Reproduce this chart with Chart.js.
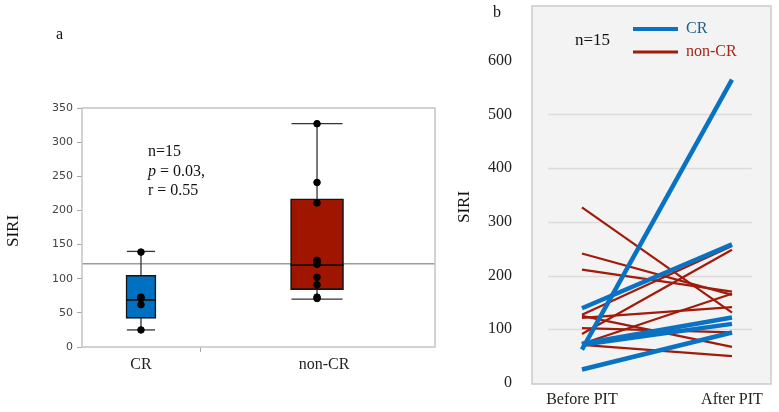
<!DOCTYPE html>
<html>
<head>
<meta charset="utf-8">
<script src="https://cdn.jsdelivr.net/npm/chart.js@4.4.1/dist/chart.umd.min.js"></script>
<style>
  html, body { margin: 0; padding: 0; background: #fff; }
  #wrap { position: relative; width: 779px; height: 412px; }
  #chartA { position: absolute; left: 0; top: 0; }
  #chartB { position: absolute; left: 440px; top: 0; }
</style>
</head>
<body>
<div id="wrap">
  <canvas id="chartA" width="440" height="412"></canvas>
  <canvas id="chartB" width="339" height="412"></canvas>
</div>
<script>
// =======================================================
// Data
// =======================================================
const groups = ['CR', 'non-CR']
const phases = ['Before PIT', 'After PIT']

// paired SIRI values, panel b (the "before" values are the dots of panel a)
const crBefore = [139, 62, 73, 71, 25]
const crAfter = [258, 565, 122, 110, 94]
const nonCrBefore = [327, 241, 211, 127, 125, 121, 102, 91, 73, 71]
const nonCrAfter = [131, 164, 170, 255, 67, 141, 94, 248, 166, 50]

// box plot stats, panel a
const boxMin = [25, 70]
const boxQ1 = [42, 84]
const boxMedian = [69, 120]
const boxQ3 = [105, 217]
const boxMax = [140, 327]
const overallLine = 122

const ticksB = [0, 100, 200, 300, 400, 500, 600]
const gridB = [100, 200, 300, 400, 500]

// =======================================================
// Styles
// =======================================================
const SERIF = '"Liberation Serif", "Times New Roman", serif'
const SANS = '"DejaVu Sans", Verdana, sans-serif'
const boxColors = ['#0070c0', '#a01500']
const boxWidthPx = [30, 53]
const capHalf = [0.08, 0.145]
const medHalf = [0.085, 0.151]
const xTickMark = 0.34
const labelPosA = [0, 1.04]
const blue = '#0a72c2'
const red = '#a11b0b'

function seg(x1, y1, x2, y2, color, width, order) {
  return {
    type: 'line',
    data: [{ x: x1, y: y1 }, { x: x2, y: y2 }],
    borderColor: color,
    borderWidth: width,
    pointRadius: 0,
    fill: false,
    order,
  }
}

function text(ctx, str, x, y, font, color, align) {
  ctx.save()
  ctx.font = font
  ctx.fillStyle = color || '#111'
  ctx.textAlign = align || 'left'
  ctx.textBaseline = 'middle'
  ctx.fillText(str, x, y)
  ctx.restore()
}

function vtext(ctx, str, x, y, font) {
  ctx.save()
  ctx.translate(x, y)
  ctx.rotate(-Math.PI / 2)
  text(ctx, str, 0, 0, font, '#111', 'center')
  ctx.restore()
}

// =======================================================
// Panel a: box plot
// =======================================================
const dsA = []
const xMinA = -0.335
const xMaxA = 1.67

// reference line
dsA.push(seg(xMinA, overallLine, xMaxA, overallLine, '#9c9c9c', 1.5, 4))

groups.forEach((g, i) => {
  // whiskers + caps
  dsA.push(seg(i, boxMin[i], i, boxMax[i], '#333', 1.3, 3))
  dsA.push(seg(i - capHalf[i], boxMin[i], i + capHalf[i], boxMin[i], '#333', 1.3, 3))
  dsA.push(seg(i - capHalf[i], boxMax[i], i + capHalf[i], boxMax[i], '#333', 1.3, 3))
  // box
  dsA.push({
    type: 'bar',
    data: [{ x: i, y: [boxQ1[i], boxQ3[i]] }],
    backgroundColor: boxColors[i],
    borderColor: '#151515',
    borderWidth: 1.6,
    borderSkipped: false,
    barThickness: boxWidthPx[i],
    grouped: false,
    order: 2,
  })
  // median
  dsA.push(seg(i - medHalf[i], boxMedian[i], i + medHalf[i], boxMedian[i], '#111', 1.8, 1))
})

// dots
dsA.push({
  type: 'scatter',
  data: [
    ...crBefore.map((v) => ({ x: 0, y: v })),
    ...nonCrBefore.map((v) => ({ x: 1, y: v })),
  ],
  backgroundColor: '#000',
  borderColor: '#000',
  pointRadius: 3.3,
  order: 0,
})

const panelAPlugin = {
  id: 'panelA',
  afterDraw(chart) {
    const { ctx, chartArea: a } = chart
    ctx.save()
    ctx.strokeStyle = '#c4c4c4'
    ctx.lineWidth = 1.5
    ctx.strokeRect(a.left, a.top, a.right - a.left, a.bottom - a.top)
    ctx.restore()

    text(ctx, 'a', 56, 35, '16px ' + SERIF)
    vtext(ctx, 'SIRI', 14, 231, '17px ' + SERIF)
    text(ctx, 'n=15', 148, 152, '16px ' + SERIF)
    text(ctx, 'p', 148, 172, 'italic 16px ' + SERIF)
    ctx.save()
    ctx.font = 'italic 16px ' + SERIF
    const pw = ctx.measureText('p').width
    ctx.restore()
    text(ctx, ' = 0.03,', 148 + pw, 172, '16px ' + SERIF)
    text(ctx, 'r = 0.55', 148, 191, '16px ' + SERIF)
  },
}

new Chart(document.getElementById('chartA'), {
  type: 'scatter',
  data: { datasets: dsA },
  options: {
    responsive: false,
    animation: false,
    devicePixelRatio: 1,
    layout: { padding: { top: 108, right: 5, left: 0, bottom: 0 } },
    plugins: { legend: { display: false }, tooltip: { enabled: false } },
    scales: {
      x: {
        type: 'linear',
        min: xMinA,
        max: xMaxA,
        offset: false,
        afterBuildTicks: (s) => {
          s.ticks = [labelPosA[0], xTickMark, labelPosA[1]].map((v) => ({ value: v }))
        },
        afterFit: (s) => {
          s.height = 65
        },
        ticks: {
          autoSkip: false,
          maxRotation: 0,
          padding: 3,
          color: '#222',
          font: { family: SERIF, size: 16 },
          callback: (v) => {
            const i = labelPosA.indexOf(v)
            return i >= 0 ? groups[i] : ''
          },
        },
        grid: {
          offset: false,
          drawOnChartArea: false,
          drawTicks: true,
          tickLength: 5,
          tickColor: (c) => (c.tick && c.tick.value === xTickMark ? '#aaa' : 'rgba(0,0,0,0)'),
        },
        border: { display: false },
      },
      y: {
        min: 0,
        max: 350,
        afterFit: (s) => {
          s.width = 82
        },
        ticks: {
          stepSize: 50,
          padding: 4,
          color: '#444',
          font: { family: SANS, size: 11 },
        },
        grid: {
          drawOnChartArea: false,
          drawTicks: true,
          tickLength: 5,
          color: '#aaa',
        },
        border: { display: false },
      },
    },
  },
  plugins: [panelAPlugin],
})

// =======================================================
// Panel b: paired lines
// =======================================================
const dsB = []
nonCrBefore.forEach((v, i) => {
  dsB.push(seg(0, v, 1, nonCrAfter[i], red, 2.2, 1))
})
crBefore.forEach((v, i) => {
  dsB.push(seg(0, v, 1, crAfter[i], blue, 4.5, 0))
})

const panelBPlugin = {
  id: 'panelB',
  beforeDraw(chart) {
    const { ctx, chartArea: a } = chart
    ctx.save()
    ctx.fillStyle = '#f3f3f4'
    ctx.fillRect(a.left, a.top, a.right - a.left, a.bottom - a.top)
    ctx.restore()
  },
  beforeDatasetsDraw(chart) {
    const { ctx, scales } = chart
    const x1 = scales.x.getPixelForValue(-0.227)
    const x2 = scales.x.getPixelForValue(1.133)
    ctx.save()
    ctx.strokeStyle = '#dcdcdc'
    ctx.lineWidth = 1.5
    gridB.forEach((v) => {
      const y = Math.round(scales.y.getPixelForValue(v)) + 0.5
      ctx.beginPath()
      ctx.moveTo(x1, y)
      ctx.lineTo(x2, y)
      ctx.stroke()
    })
    ctx.restore()
  },
  afterDraw(chart) {
    const { ctx, chartArea: a } = chart
    ctx.save()
    ctx.strokeStyle = '#c6ccd1'
    ctx.lineWidth = 1.5
    ctx.strokeRect(a.left, a.top, a.right - a.left, a.bottom - a.top)

    // legend
    ctx.lineCap = 'butt'
    ctx.strokeStyle = blue
    ctx.lineWidth = 4
    ctx.beginPath()
    ctx.moveTo(193, 29)
    ctx.lineTo(238, 29)
    ctx.stroke()
    ctx.strokeStyle = red
    ctx.lineWidth = 3
    ctx.beginPath()
    ctx.moveTo(193, 52)
    ctx.lineTo(238, 52)
    ctx.stroke()
    ctx.restore()

    text(ctx, groups[0], 246, 29, '16px ' + SERIF, '#1d5f80')
    text(ctx, groups[1], 246, 52, '16px ' + SERIF, '#a2281a')
    text(ctx, 'n=15', 135, 41, '17px ' + SERIF)
    text(ctx, 'b', 53, 13, '16px ' + SERIF)
    vtext(ctx, 'SIRI', 25, 207, '17px ' + SERIF)
  },
}

new Chart(document.getElementById('chartB'), {
  type: 'scatter',
  data: { datasets: dsB },
  options: {
    responsive: false,
    animation: false,
    devicePixelRatio: 1,
    layout: { padding: { top: 6, right: 8, left: 0, bottom: 0 } },
    plugins: { legend: { display: false }, tooltip: { enabled: false } },
    scales: {
      x: {
        type: 'linear',
        min: -0.333,
        max: 1.26,
        offset: false,
        afterBuildTicks: (s) => {
          s.ticks = [0, 1].map((v) => ({ value: v }))
        },
        afterFit: (s) => {
          s.height = 28
          s.paddingLeft = 0
          s.paddingRight = 0
        },
        ticks: {
          autoSkip: false,
          maxRotation: 0,
          padding: 6,
          color: '#222',
          font: { family: SERIF, size: 16 },
          callback: (v) => phases[v] ?? '',
        },
        grid: { display: false, drawTicks: false },
        border: { display: false },
      },
      y: {
        min: -2,
        max: 702,
        afterBuildTicks: (s) => {
          s.ticks = ticksB.map((v) => ({ value: v }))
        },
        afterFit: (s) => {
          s.width = 92
          s.paddingTop = 0
          s.paddingBottom = 0
        },
        ticks: {
          padding: 20,
          color: '#222',
          font: { family: SERIF, size: 16 },
        },
        grid: { display: false, drawTicks: false },
        border: { display: false },
      },
    },
  },
  plugins: [panelBPlugin],
})
</script>
</body>
</html>
